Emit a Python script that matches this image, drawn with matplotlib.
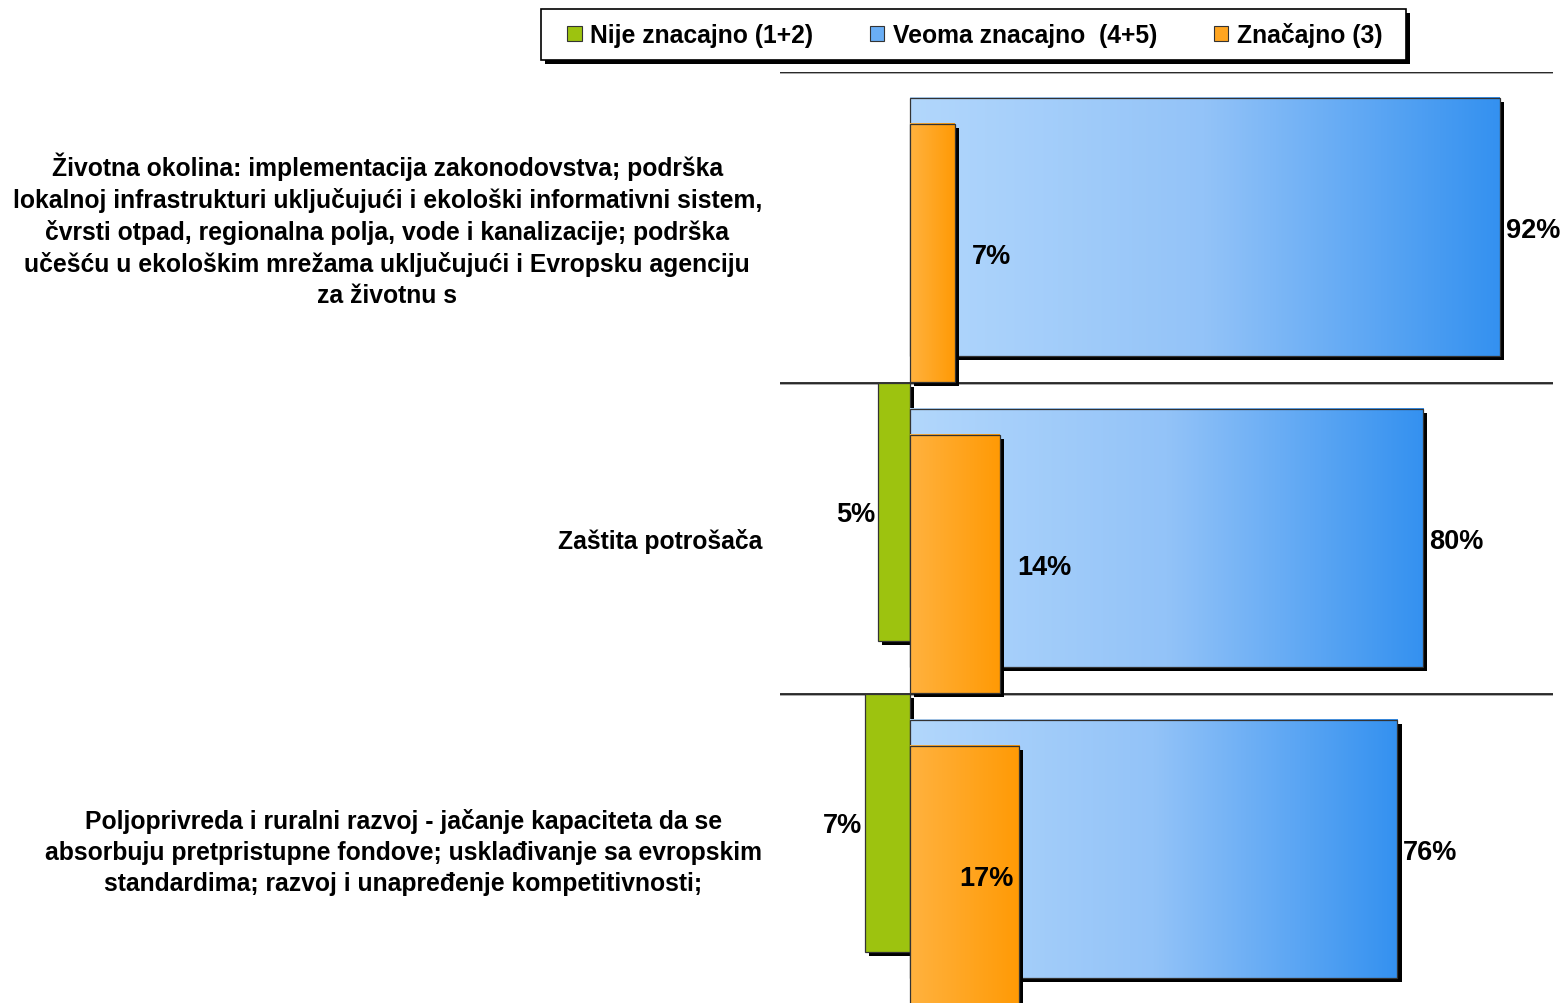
import matplotlib.pyplot as plt
import matplotlib.patheffects as pe
from matplotlib.colors import LinearSegmentedColormap
from matplotlib.patches import Patch, Rectangle
import numpy as np

plt.rcParams['font.family'] = ['Liberation Sans', 'DejaVu Sans']
plt.rcParams['font.weight'] = 'bold'

# data
categories = [
    "Životna okolina: implementacija zakonodovstva; podrška\n"
    "lokalnoj infrastrukturi uključujući i ekološki informativni sistem,\n"
    "čvrsti otpad, regionalna polja, vode i kanalizacije; podrška\n"
    "učešću u ekološkim mrežama uključujući i Evropsku agenciju\n"
    "za životnu s",
    "Zaštita potrošača",
    "Poljoprivreda i ruralni razvoj - jačanje kapaciteta da se\n"
    "absorbuju pretpristupne fondove; usklađivanje sa evropskim\n"
    "standardima; razvoj i unapređenje kompetitivnosti;",
]
nije = [0, 5, 7]
veoma = [92, 80, 76]
znacajno = [7, 14, 17]
series_names = ["Nije znacajno (1+2)", "Veoma znacajno  (4+5)", "Značajno (3)"]
znacajno_label_side = ["out", "out", "in"]

green = "#9DC30F"
blue_cmap = LinearSegmentedColormap.from_list("b", ["#B2D7FC", "#93C3F8", "#3491F0"])
orange_cmap = LinearSegmentedColormap.from_list("o", ["#FFB23F", "#FF9A05"])

W, H = 1562, 1004
fig = plt.figure(figsize=(W / 100, H / 100), dpi=100)
ax = fig.add_axes([780 / W, -2 / H, 773 / W, 933 / H])

h = 0.83
step = 0.0836
shadow = [pe.SimplePatchShadow(offset=(3, -3), shadow_rgbFace='k', alpha=1), pe.Normal()]
grad = np.linspace(0, 1, 256).reshape(1, -1)
pct_size = 19.5

# separator lines
for b in np.arange(len(categories) + 1) - 0.5:
    ax.axhline(b, color='#111111', lw=1.2, zorder=1,
               path_effects=[pe.SimpleLineShadow(offset=(0, -1), shadow_color='#999999', alpha=1), pe.Normal()])


def gradient_bars(tops, values, cmap, z):
    for t, v in zip(tops, values):
        if v == 0:
            continue
        ax.barh(t, v, height=h, left=0, align='edge', color=cmap(1.0),
                zorder=z, path_effects=shadow)
        ax.imshow(grad, cmap=cmap, extent=(0, v, t + h, t), aspect='auto',
                  interpolation='bicubic', zorder=z + 0.1)
        ax.barh(t, v, height=h, left=0, align='edge', fill=False,
                edgecolor='#333333', lw=0.9, zorder=z + 0.2)


idx = np.arange(len(categories))
tops_green = idx - 0.5
tops_blue = idx - 0.5 + step
tops_orange = idx - 0.5 + 2 * step

for t, v in zip(tops_green, nije):
    if v == 0:
        continue
    ax.barh(t, -v, height=h, left=0, align='edge', color=green,
            edgecolor='#333333', lw=0.9, zorder=2, path_effects=shadow)
    ax.annotate(f"{v}%", (-v, t + h / 2), xytext=(-3, -2), textcoords='offset pixels',
                ha='right', va='center', fontsize=pct_size, fontweight='bold', zorder=10)

gradient_bars(tops_blue, veoma, blue_cmap, 3)
gradient_bars(tops_orange, znacajno, orange_cmap, 4)

for t, v in zip(tops_blue, veoma):
    ax.annotate(f"{v}%", (v, t + h / 2), xytext=(6, -3), textcoords='offset pixels',
                ha='left', va='center', fontsize=pct_size, fontweight='bold', zorder=10)

for t, v, side in zip(tops_orange, znacajno, znacajno_label_side):
    if side == "out":
        ax.annotate(f"{v}%", (v, t + h / 2), xytext=(17, -3), textcoords='offset pixels',
                    ha='left', va='center', fontsize=pct_size, fontweight='bold', zorder=10)
    else:
        ax.annotate(f"{v}%", (v, t + h / 2), xytext=(-5, -3), textcoords='offset pixels',
                    ha='right', va='center', fontsize=pct_size, fontweight='bold', zorder=10)

# category labels
for i, c in enumerate(categories):
    ax.annotate(c, (0, i), xycoords=('axes fraction', 'data'), xytext=(-18, -2),
                textcoords='offset pixels', ha='right', va='center',
                multialignment='center', fontsize=17.8, fontweight='bold',
                linespacing=1.35, annotation_clip=False)

ax.set_xlim(-20.27, 100.27)
ax.set_ylim(len(categories) - 0.5, -0.5)
ax.set_axis_off()

# legend
handles = [
    Patch(facecolor=green, edgecolor='#333333', lw=0.8),
    Patch(facecolor="#6AAEF5", edgecolor='#333333', lw=0.8),
    Patch(facecolor="#FFA520", edgecolor='#333333', lw=0.8),
]
box = Rectangle((541 / W, 1 - 61 / H), 865 / W, 51 / H, transform=fig.transFigure,
                facecolor='white', edgecolor='black', lw=1.2, zorder=5,
                path_effects=shadow)
fig.patches.append(box)
leg = fig.legend(handles, series_names, loc='center', bbox_to_anchor=(975 / W, 1 - 35.5 / H),
                 ncol=3, frameon=False, handlelength=0.57, handleheight=0.57,
                 handletextpad=0.35, columnspacing=2.3,
                 prop={'weight': 'bold', 'size': 17.8})
leg.set_zorder(6)

fig.savefig("out.png", dpi=100)
